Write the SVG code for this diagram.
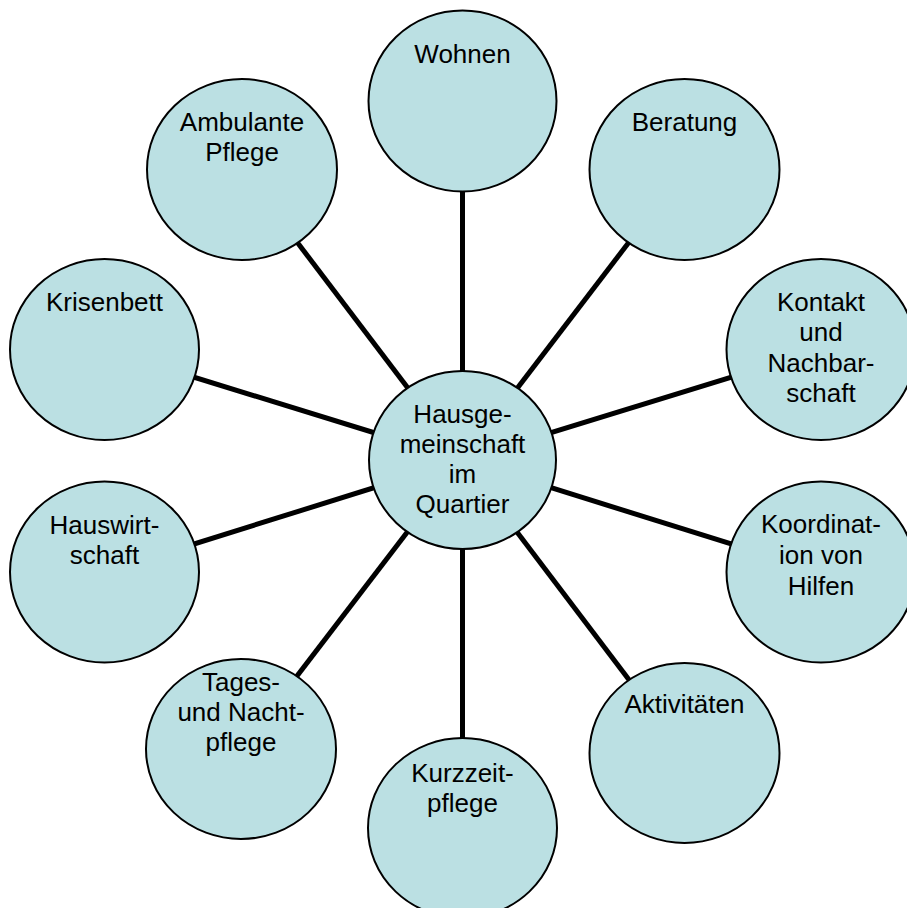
<svg xmlns="http://www.w3.org/2000/svg" width="907" height="908" viewBox="0 0 907 908">
<style>
.c{fill:#BBE0E3;stroke:#000;stroke-width:2}
.l{stroke:#000;stroke-width:5}
text{font-family:"Liberation Sans",Arial,sans-serif;font-size:26px;text-anchor:middle;fill:#000}
</style>
<rect width="907" height="908" fill="#fff"/>
<g id="connectors">
<line class="l" x1="462.5" y1="460" x2="462.5" y2="101"/>
<line class="l" x1="462.5" y1="460" x2="684.5" y2="169.5"/>
<line class="l" x1="462.5" y1="460" x2="821" y2="349.5"/>
<line class="l" x1="462.5" y1="460" x2="821" y2="572"/>
<line class="l" x1="462.5" y1="460" x2="684.5" y2="753"/>
<line class="l" x1="462.5" y1="460" x2="462.5" y2="828"/>
<line class="l" x1="462.5" y1="460" x2="241" y2="749"/>
<line class="l" x1="462.5" y1="460" x2="104.5" y2="572"/>
<line class="l" x1="462.5" y1="460" x2="104.5" y2="349.5"/>
<line class="l" x1="462.5" y1="460" x2="242" y2="169.5"/>
</g>
<g id="center">
<ellipse class="c" cx="462.5" cy="460" rx="93.5" ry="89"/>
<text x="462.5" y="423">Hausge-</text>
<text x="462.5" y="453">meinschaft</text>
<text x="462.5" y="483">im</text>
<text x="462.5" y="513">Quartier</text>
</g>
<g id="wohnen">
<ellipse class="c" cx="462.5" cy="101" rx="94" ry="90.5"/>
<text x="462.5" y="63">Wohnen</text>
</g>
<g id="beratung">
<ellipse class="c" cx="684.5" cy="169.5" rx="95" ry="90.5"/>
<text x="684.5" y="131">Beratung</text>
</g>
<g id="kontakt">
<ellipse class="c" cx="821" cy="349.5" rx="94.5" ry="90.5"/>
<text x="821" y="311">Kontakt</text>
<text x="821" y="341">und</text>
<text x="821" y="372">Nachbar-</text>
<text x="821" y="402">schaft</text>
</g>
<g id="koordination">
<ellipse class="c" cx="821" cy="572" rx="94.5" ry="90.5"/>
<text x="821" y="533">Koordinat-</text>
<text x="821" y="564">ion von</text>
<text x="821" y="595">Hilfen</text>
</g>
<g id="aktivitaeten">
<ellipse class="c" cx="684.5" cy="753" rx="95" ry="90"/>
<text x="684.5" y="713">Aktivitäten</text>
</g>
<g id="kurzzeitpflege">
<ellipse class="c" cx="462.5" cy="828" rx="94.5" ry="90"/>
<text x="462.5" y="782">Kurzzeit-</text>
<text x="462.5" y="812">pflege</text>
</g>
<g id="tagespflege">
<ellipse class="c" cx="241" cy="749" rx="95" ry="90"/>
<text x="241" y="691">Tages-</text>
<text x="241" y="721">und Nacht-</text>
<text x="241" y="751">pflege</text>
</g>
<g id="hauswirtschaft">
<ellipse class="c" cx="104.5" cy="572" rx="94.5" ry="90.5"/>
<text x="104.5" y="534">Hauswirt-</text>
<text x="104.5" y="564">schaft</text>
</g>
<g id="krisenbett">
<ellipse class="c" cx="104.5" cy="349.5" rx="94.5" ry="90.5"/>
<text x="104.5" y="311">Krisenbett</text>
</g>
<g id="ambulante">
<ellipse class="c" cx="242" cy="169.5" rx="95" ry="90.5"/>
<text x="242" y="131">Ambulante</text>
<text x="242" y="161">Pflege</text>
</g>
</svg>
